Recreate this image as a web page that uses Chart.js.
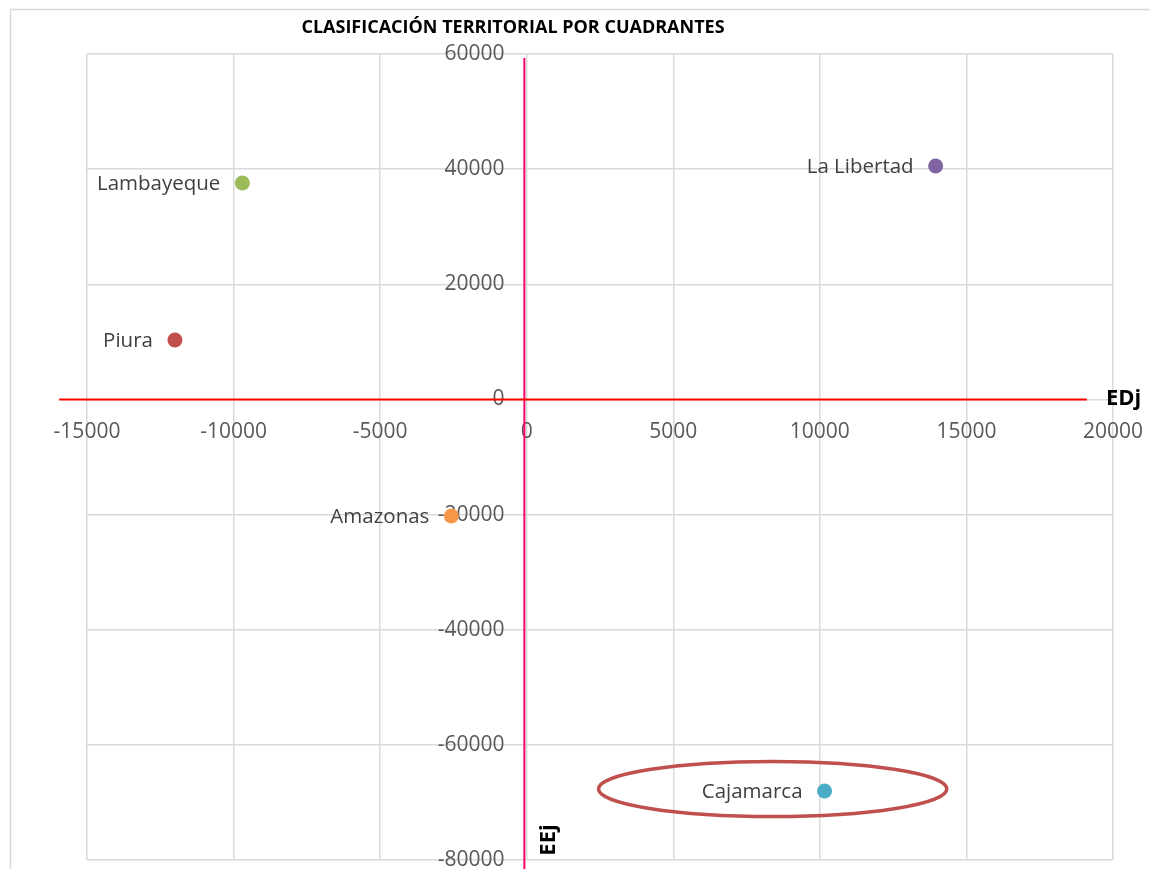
<!DOCTYPE html>
<html>
<head>
<meta charset="utf-8">
<script src="https://cdn.jsdelivr.net/npm/chart.js@4"></script>
<style>
  html, body { margin: 0; padding: 0; background: #fff; }
  #wrap { width: 1150px; height: 869px; }
</style>
</head>
<body>
<div id="wrap"><canvas id="cuadrantes" width="1150" height="869"></canvas></div>
<script>
// datos
const regiones = ["La Libertad", "Lambayeque", "Piura", "Amazonas", "Cajamarca"];
const edj = [13950, -9700, -12000, -2570, 10160];
const eej = [40540, 37590, 10320, -20250, -68020];
const colores = ["#8064a2", "#9bbb59", "#c0504d", "#f79646", "#4bacc6"];

const xTicks = [-15000, -10000, -5000, 0, 5000, 10000, 15000, 20000];
const yTicks = [-80000, -60000, -40000, -20000, 0, 20000, 40000, 60000];

// lineas rojas de los ejes (dibujadas a mano en el original)
const ejeHorizontal = [{ x: -15950, y: 0 }, { x: 19110, y: 0 }];
const ejeVertical = [{ x: -80, y: 59300 }, { x: -80, y: -81600 }];

// ovalo alrededor de Cajamarca (en unidades de los ejes)
const ovalo = { cx: 8390, cy: -67670, rx: 5940, ry: 4780 };

const datasets = regiones.map((r, i) => ({
  label: r,
  data: [{ x: edj[i], y: eej[i] }],
  backgroundColor: colores[i],
  borderWidth: 0,
  pointRadius: 7.5,
  pointHoverRadius: 7.5
}));

datasets.push({
  label: "ejeX",
  type: "line",
  data: ejeHorizontal,
  borderColor: "#ff0000",
  borderWidth: 2,
  pointRadius: 0,
  clip: false
});
datasets.push({
  label: "ejeY",
  type: "line",
  data: ejeVertical,
  borderColor: "#ff0066",
  borderWidth: 2,
  pointRadius: 0,
  clip: false
});

const extras = {
  id: "extras",
  beforeDraw(chart) {
    const ctx = chart.ctx;
    ctx.save();
    ctx.strokeStyle = "#d9d9d9";
    ctx.lineWidth = 1.5;
    ctx.strokeRect(10.5, 9.5, 1300, 1000);
    ctx.restore();
  },
  afterDatasetsDraw(chart) {
    const ctx = chart.ctx;
    const xs = chart.scales.x, ys = chart.scales.y;
    ctx.save();

    // etiquetas de las regiones
    ctx.font = "20.5px 'Open Sans'";
    ctx.fillStyle = "#404040";
    ctx.textAlign = "right";
    ctx.textBaseline = "middle";
    regiones.forEach((r, i) => {
      const px = xs.getPixelForValue(edj[i]);
      const py = ys.getPixelForValue(eej[i]);
      ctx.fillText(r, px - 22, py + 1);
    });

    // ovalo
    const cx = xs.getPixelForValue(ovalo.cx);
    const cy = ys.getPixelForValue(ovalo.cy);
    const rx = xs.getPixelForValue(ovalo.cx + ovalo.rx) - cx;
    const ry = ys.getPixelForValue(ovalo.cy) - ys.getPixelForValue(ovalo.cy + ovalo.ry);
    ctx.beginPath();
    ctx.ellipse(cx, cy, rx, ry, 0, 0, Math.PI * 2);
    ctx.strokeStyle = "#c0504d";
    ctx.lineWidth = 3.5;
    ctx.stroke();

    // titulo
    ctx.font = "bold 18px 'Open Sans'";
    ctx.fillStyle = "#000";
    ctx.textAlign = "center";
    ctx.fillText("CLASIFICACIÓN TERRITORIAL POR CUADRANTES", 513, 28);

    // nombres de los ejes
    ctx.font = "bold 22px 'Open Sans'";
    ctx.textAlign = "left";
    ctx.fillText("EDj", 1106, 399);
    ctx.translate(549, 840);
    ctx.rotate(-Math.PI / 2);
    ctx.textAlign = "center";
    ctx.fillText("EEj", 0, 0);
    ctx.restore();
  }
};

function sinRelleno(s) {
  s.paddingLeft = 0; s.paddingRight = 0;
  s.paddingTop = 0; s.paddingBottom = 0;
}

Chart.defaults.font.family = "'Open Sans', sans-serif";

new Chart(document.getElementById("cuadrantes"), {
  type: "scatter",
  data: { datasets: datasets },
  options: {
    responsive: false,
    animation: false,
    layout: { padding: { left: 87, right: 37, top: 54, bottom: 9 } },
    plugins: {
      legend: { display: false },
      tooltip: { enabled: false },
      title: { display: false }
    },
    scales: {
      x: {
        type: "linear",
        min: -15000,
        max: 20000,
        position: { y: 0 },
        afterBuildTicks: s => { s.ticks = xTicks.map(v => ({ value: v })); },
        afterFit: sinRelleno,
        grid: { color: "#d9d9d9", lineWidth: 1.5, drawTicks: false },
        border: { display: false },
        ticks: { color: "#595959", font: { size: 21 }, padding: 20, maxRotation: 0, callback: v => String(v) }
      },
      y: {
        type: "linear",
        min: -80000,
        max: 60000,
        position: { x: -760 },
        afterBuildTicks: s => { s.ticks = yTicks.map(v => ({ value: v })); },
        afterFit: sinRelleno,
        grid: { color: "#d9d9d9", lineWidth: 1.5, drawTicks: false },
        border: { display: false },
        ticks: { color: "#595959", font: { size: 21 }, padding: 0, callback: v => String(v) }
      }
    }
  },
  plugins: [extras]
});
</script>
</body>
</html>
